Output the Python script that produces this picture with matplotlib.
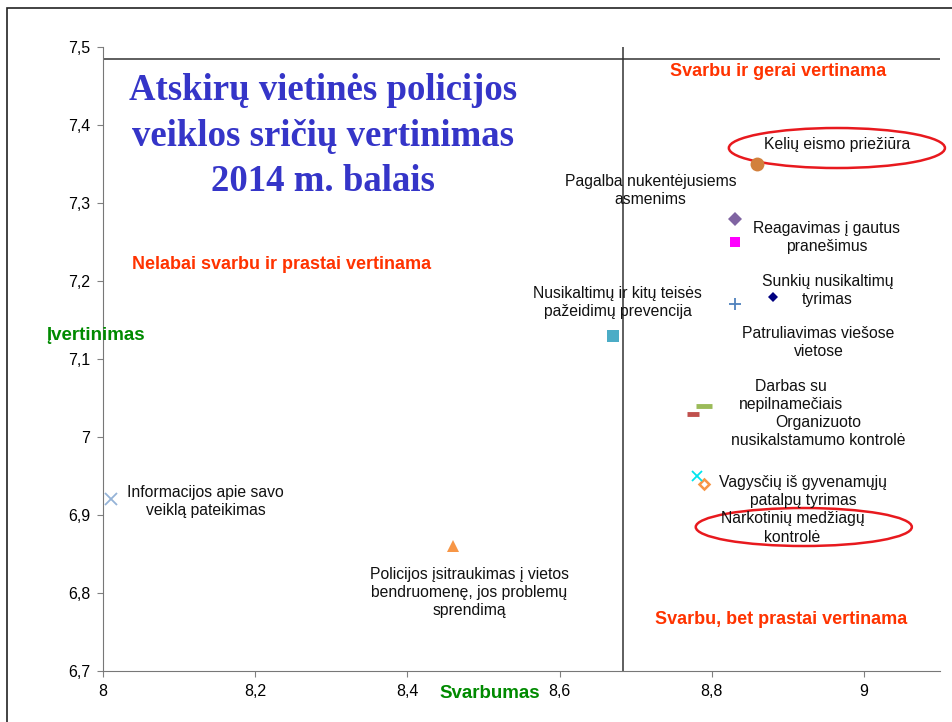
import matplotlib.pyplot as plt
from matplotlib.patches import Ellipse, Rectangle
from matplotlib.ticker import FuncFormatter

plt.rcParams['font.family'] = ['Liberation Sans', 'DejaVu Sans']

# duomenys
names = ['Kelių eismo priežiūra',
         'Pagalba nukentėjusiems\nasmenims',
         'Reagavimas į gautus\npranešimus',
         'Sunkių nusikaltimų\ntyrimas',
         'Patruliavimas viešose\nvietose',
         'Nusikaltimų ir kitų teisės\npažeidimų prevencija',
         'Darbas su\nnepilnamečiais',
         'Organizuoto\nnusikalstamumo kontrolė',
         'Vagysčių iš gyvenamųjų\npatalpų tyrimas',
         'Narkotinių medžiagų\nkontrolė',
         'Informacijos apie savo\nveiklą pateikimas',
         'Policijos įsitraukimas į vietos\nbendruomenę, jos problemų\nsprendimą']
svarbumas = [8.86, 8.83, 8.83, 8.88, 8.83, 8.67, 8.79, 8.775, 8.79, 8.78, 8.01, 8.46]
ivertinimas = [7.35, 7.28, 7.25, 7.18, 7.17, 7.13, 7.04, 7.03, 6.94, 6.95, 6.92, 6.86]
x_riba = 8.683
y_riba = 7.485

x_ticks = [8, 8.2, 8.4, 8.6, 8.8, 9]
y_ticks = [6.7, 6.8, 6.9, 7.0, 7.1, 7.2, 7.3, 7.4, 7.5]

# stiliai: marker, spalva, dydis, uzpildas, etiketes poslinkis (px)
styles = [
    ('o', '#D2803C', 10, True, (80, 20)),
    ('D', '#8064A2', 7, True, (-84, 28)),
    ('s', '#FF00FF', 7, True, (92, 4)),
    ('D', '#000080', 5.5, True, (55, 6)),
    ('+', '#4F81BD', 9, True, (84, -38)),
    ('s', '#4BACC6', 9, True, (5, 33)),
    ('_', '#9BBB59', 11, True, (87, 10)),
    ('_', '#C0504D', 8, True, (126, -18)),
    ('D', '#F79646', 5, False, (99, -8)),
    ('x', '#00E5EE', 7, True, (96, -52)),
    ('x', '#95B3D7', 9, True, (95, -2)),
    ('^', '#F79646', 9, True, (16, -46)),
]

fig = plt.figure(figsize=(9.53, 7.22), dpi=100)
fig.patches.append(Rectangle((7/953, -0.1), 1.2, 1 - 8/722 + 0.1, transform=fig.transFigure,
                             fill=False, edgecolor='#222222', linewidth=1.2))
ax = fig.add_axes([103/953, 51/722, 837/953, 624/722])

for i in range(len(names)):
    m, c, s, filled, off = styles[i]
    if m == '_':
        ax.plot(svarbumas[i], ivertinimas[i], marker=m, color=c, markersize=s, mew=3.5, ls='none')
    elif m in ('x', '+'):
        ax.plot(svarbumas[i], ivertinimas[i], marker=m, color=c, markersize=s, mew=1.3, ls='none')
    elif filled:
        ax.plot(svarbumas[i], ivertinimas[i], marker=m, color=c, markersize=s, mew=0, ls='none')
    else:
        ax.plot(svarbumas[i], ivertinimas[i], marker=m, markerfacecolor='white', markeredgecolor=c,
                markersize=s, mew=1.8, ls='none')
    ax.annotate(names[i], (svarbumas[i], ivertinimas[i]), xytext=off, textcoords='offset pixels',
                ha='center', va='center', fontsize=11.3, color='#111111', linespacing=1.25)

ax.axvline(x_riba, color='#333333', lw=1.1)
ax.axhline(y_riba, color='#333333', lw=1.1)

# raudonos elipses
ax.add_patch(Ellipse((8.9645, 7.3705), 0.284, 0.0513, fill=False, edgecolor='#E8191E', lw=1.8, clip_on=False))
ax.add_patch(Ellipse((8.921, 6.8846), 0.284, 0.0487, fill=False, edgecolor='#E8191E', lw=1.8, clip_on=False))

ax.set_xlim(8, 9.1)
ax.set_ylim(6.7, 7.5)
ax.set_xticks(x_ticks)
ax.set_yticks(y_ticks)
fmt = FuncFormatter(lambda v, p: ('%g' % round(v, 2)).replace('.', ','))
ax.xaxis.set_major_formatter(fmt)
ax.yaxis.set_major_formatter(fmt)
ax.tick_params(axis='both', labelsize=11.5, length=4, color='#808080', pad=5)
for sp in ['top', 'right']:
    ax.spines[sp].set_visible(False)
for sp in ['left', 'bottom']:
    ax.spines[sp].set_color('#777777')

# pavadinimas ir kvadrantu uzrasai
fig.text(323/953, 1 - 136/722, 'Atskirų vietinės policijos\nveiklos sričių vertinimas\n2014 m. balais',
         ha='center', va='center', fontsize=26.5, fontweight='bold', color='#3535C8',
         family=['Liberation Serif', 'DejaVu Serif'], linespacing=1.4)
red = '#FF3300'
fig.text(778/953, 1 - 72/722, 'Svarbu ir gerai vertinama', ha='center', va='center',
         fontsize=13, fontweight='bold', color=red)
fig.text(282/953, 1 - 264/722, 'Nelabai svarbu ir prastai vertinama', ha='center', va='center',
         fontsize=13, fontweight='bold', color=red)
fig.text(781/953, 1 - 620/722, 'Svarbu, bet prastai vertinama', ha='center', va='center',
         fontsize=13, fontweight='bold', color=red)
green = '#008A00'
fig.text(46/953, 1 - 336/722, 'Įvertinimas', ha='left', va='center',
         fontsize=13.5, fontweight='bold', color=green)
fig.text(490/953, 1 - 694/722, 'Svarbumas', ha='center', va='center',
         fontsize=13.5, fontweight='bold', color=green)

fig.savefig('out.png', dpi=100)
